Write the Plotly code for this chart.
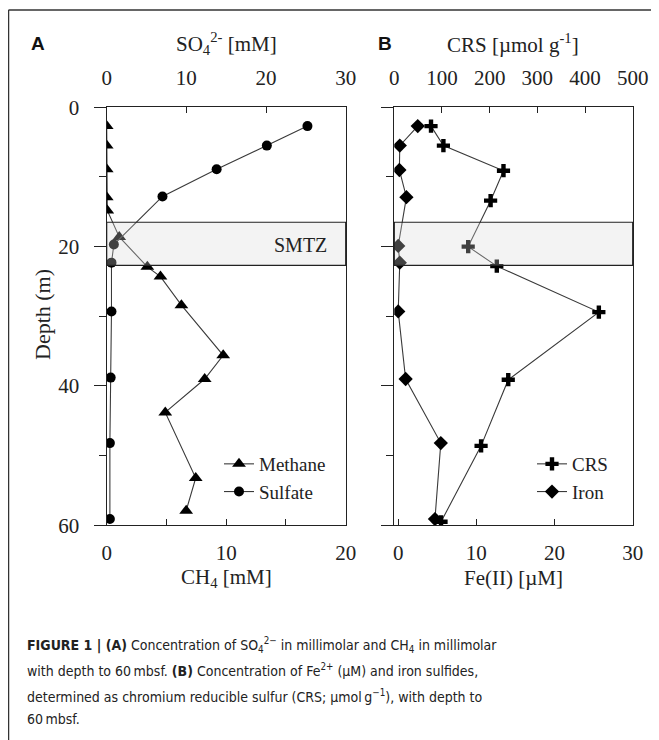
import plotly.graph_objects as go

# ---------------- data ----------------
methane_depth = [2.7, 5.5, 8.9, 12.9, 14.8, 18.6, 22.9, 24.3, 28.4, 35.6, 39.0, 43.8, 53.2, 57.9]
methane_mM = [0.0, 0.0, 0.0, 0.0, 0.05, 1.05, 3.4, 4.5, 6.25, 9.75, 8.2, 4.9, 7.45, 6.65]

sulfate_depth = [2.7, 5.5, 8.9, 12.8, 19.7, 22.3, 29.3, 38.8, 48.2, 59.1]
sulfate_mM = [25.2, 20.1, 13.8, 7.0, 0.9, 0.6, 0.6, 0.5, 0.4, 0.4]

crs_depth = [2.7, 5.5, 9.1, 13.4, 20.0, 22.8, 29.4, 39.1, 48.6, 59.5]
crs_umol_g = [77, 103, 229, 202, 155, 215, 429, 239, 182, 98]

iron_depth = [2.7, 5.5, 9.0, 12.9, 19.9, 22.3, 29.3, 39.0, 48.2, 59.1]
iron_uM = [2.5, 0.2, 0.15, 1.05, 0.0, 0.2, 0.0, 0.95, 5.45, 4.7]

smtz_top, smtz_bottom = 16.5, 22.7

caption_lines = [
    "<b>FIGURE 1 | (A)</b> Concentration of SO<sub>4</sub><sup>2−</sup> in millimolar and CH<sub>4</sub> in millimolar",
    "with depth to 60\u2009mbsf. <b>(B)</b> Concentration of Fe<sup>2+</sup> (µM) and iron sulfides,",
    "determined as chromium reducible sulfur (CRS; µmol\u2009g<sup>−1</sup>), with depth to",
    "60\u2009mbsf.",
]

# page body has an 8px margin, so the figure is 8px smaller and offset
OFF = 8
W, H = 659 - OFF, 740 - OFF
SERIF = "Liberation Serif, Times New Roman, serif"
SANS = "Liberation Sans, Arial, sans-serif"
COND = "DejaVu Sans Condensed, Liberation Sans Narrow, sans-serif"
LINE = "#222222"
DATA = "#3a3a3a"


def px(x):
    return (x - OFF) / W


def py(y):
    return 1 - (y - OFF) / H


fig = go.Figure()

mk_line = dict(color=DATA, width=1.1)
fig.add_trace(go.Scatter(x=methane_mM, y=methane_depth, name="Methane", xaxis="x", yaxis="y",
                         mode="lines+markers", line=mk_line,
                         marker=dict(symbol="triangle-up", size=12, color="black"), legend="legend"))
fig.add_trace(go.Scatter(x=sulfate_mM, y=sulfate_depth, name="Sulfate", xaxis="x2", yaxis="y",
                         mode="lines+markers", line=mk_line,
                         marker=dict(symbol="circle", size=10, color="black"), legend="legend"))
fig.add_trace(go.Scatter(x=crs_umol_g, y=crs_depth, name="CRS", xaxis="x4", yaxis="y2",
                         mode="lines+markers", line=mk_line,
                         marker=dict(symbol="cross", size=11, color="black"), legend="legend2"))
fig.add_trace(go.Scatter(x=iron_uM, y=iron_depth, name="Iron", xaxis="x3", yaxis="y2",
                         mode="lines+markers", line=mk_line,
                         marker=dict(symbol="diamond", size=11, color="black"), legend="legend2"))

A_dom = [px(106.7), px(345.7)]
B_dom = [px(394.3), px(632.7)]
Y_dom = [py(525.3), py(107.3)]

tickfont = dict(family=SERIF, size=21, color="#222")
common_x = dict(showgrid=False, zeroline=False, tickfont=tickfont, ticks="inside", ticklen=6,
                tickcolor=LINE, tickwidth=1.2, automargin=False)

fig.update_layout(
    width=W, height=H, autosize=False,
    margin=dict(l=0, r=0, t=0, b=0, pad=0, autoexpand=False),
    paper_bgcolor="white", plot_bgcolor="white",
    xaxis=dict(domain=A_dom, anchor="y", range=[0, 20], dtick=10, side="bottom",
               showline=True, mirror=True, linecolor=LINE, linewidth=1.3, ticklabelstandoff=8,
               minor=dict(dtick=5, ticks="inside", ticklen=6, tickcolor=LINE), **common_x),
    xaxis2=dict(overlaying="x", anchor="y", range=[0, 30], dtick=10, side="top",
                showline=False, ticklabelstandoff=17, **common_x),
    xaxis3=dict(domain=B_dom, anchor="y2", range=[-0.5, 30], dtick=10, side="bottom",
                showline=True, mirror=True, linecolor=LINE, linewidth=1.3, ticklabelstandoff=8,
                **common_x),
    xaxis4=dict(overlaying="x3", anchor="y2", range=[0, 500], dtick=100, side="top",
                showline=False, ticklabelstandoff=17, **common_x),
    yaxis=dict(domain=Y_dom, anchor="x", range=[60, 0], dtick=20, ticks="outside", ticklen=12,
               tickcolor=LINE, tickwidth=1.2, showline=True, mirror=True, linecolor=LINE, linewidth=1.3,
               showgrid=False, zeroline=False, tickfont=tickfont, ticklabelstandoff=10, automargin=False,
               minor=dict(dtick=10, ticks="outside", ticklen=7, tickcolor=LINE)),
    yaxis2=dict(domain=Y_dom, anchor="x3", range=[60, 0], dtick=20, ticks="outside", ticklen=12,
                tickcolor=LINE, tickwidth=1.2, showline=True, mirror=True, linecolor=LINE, linewidth=1.3,
                showgrid=False, zeroline=False, showticklabels=False, automargin=False,
                minor=dict(dtick=10, ticks="outside", ticklen=7, tickcolor=LINE)),
    legend=dict(x=px(219), y=py(445), xanchor="left", yanchor="top", bgcolor="rgba(0,0,0,0)",
                font=dict(family=SERIF, size=19, color="#222"), itemwidth=30, tracegroupgap=0),
    legend2=dict(x=px(532), y=py(445), xanchor="left", yanchor="top", bgcolor="rgba(0,0,0,0)",
                 font=dict(family=SERIF, size=19, color="#222"), itemwidth=30, tracegroupgap=0),
    showlegend=True,
)

# SMTZ bands (drawn above, semi-transparent)
for xr, yr in [("x domain", "y"), ("x3 domain", "y2")]:
    fig.add_shape(type="rect", xref=xr, yref=yr,
                  x0=0, x1=1, y0=smtz_top, y1=smtz_bottom,
                  fillcolor="rgba(215,215,215,0.3)", line=dict(color=LINE, width=1.2), layer="above")

fig.add_annotation(x=24.3, y=19.8, xref="x2", yref="y", text="SMTZ", showarrow=False,
                   xanchor="center", yanchor="middle",
                   font=dict(family=SERIF, size=20, color="#222"))

# frame
fig.add_shape(type="line", xref="paper", yref="paper", x0=px(8.5), x1=1, y0=py(10), y1=py(10),
              line=dict(color="#333", width=1.5))
fig.add_shape(type="line", xref="paper", yref="paper", x0=px(8.5), x1=px(8.5), y0=py(10), y1=0,
              line=dict(color="#333", width=1.5))


def ann(x, y, text, font, xanchor="center", yanchor="middle", **kw):
    fig.add_annotation(x=px(x), y=py(y), xref="paper", yref="paper", text=text, showarrow=False,
                       font=font, xanchor=xanchor, yanchor=yanchor, **kw)


title_font = dict(family=SERIF, size=21, color="#222")
ann(37.5, 43, "<b>A</b>", dict(family=SANS, size=19, color="#111"))
ann(385, 43, "<b>B</b>", dict(family=SANS, size=19, color="#111"))
ann(226, 43, "SO<sub>4</sub><sup>2-</sup> [mM]", title_font)
ann(513, 43, "CRS [µmol g<sup>-1</sup>]", title_font)
ann(226, 578, "CH<sub>4</sub> [mM]", title_font)
ann(513, 578, "Fe(II) [µM]", title_font)
ann(42, 315, "Depth (m)", dict(family=SERIF, size=22, color="#222"), textangle=-90)

for line_text, yy in zip(caption_lines, [645, 670, 696, 719]):
    ann(25, yy, line_text, dict(family=COND, size=14, color="#222"), xanchor="left", align="left")

fig.write_html("out.html")
